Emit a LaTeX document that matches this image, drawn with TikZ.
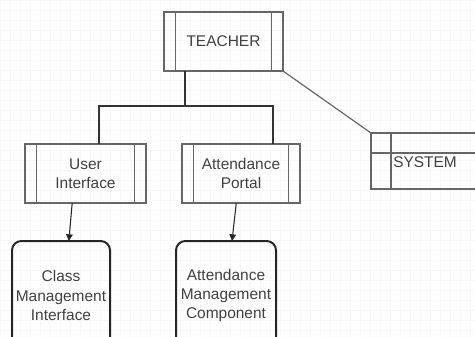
\documentclass[tikz,border=0pt]{standalone}
\usepackage{fontspec}
\setmainfont{Liberation Sans}
\usetikzlibrary{positioning, calc, arrows.meta}

\tikzset{
  procbox/.style={draw=black!60, line width=0.9pt, inner sep=0pt, outer sep=0pt,
    align=center, text=black!75},
  sidebars/.style={path picture={
      \draw[black!60, line width=0.9pt]
        ([xshift=8.5pt]path picture bounding box.north west) -- ([xshift=8.5pt]path picture bounding box.south west)
        ([xshift=-8.5pt]path picture bounding box.north east) -- ([xshift=-8.5pt]path picture bounding box.south east);
    }},
  storebox/.style={draw=black!60, line width=0.9pt, inner sep=0pt, outer sep=0pt,
    path picture={
      \draw[black!60, line width=0.9pt]
        ([xshift=15pt]path picture bounding box.north west) -- ([xshift=15pt]path picture bounding box.south west)
        ([yshift=-15pt]path picture bounding box.north west) -- ([yshift=-15pt]path picture bounding box.north east);
    }},
  compbox/.style={draw=black!85, line width=1.5pt, rounded corners=7pt, inner sep=0pt,
    outer sep=0pt, align=center, text=black!75},
  conn/.style={draw=black!80, line width=1.3pt},
  arr/.style={draw=black!85, line width=0.8pt, -{Triangle[length=5pt,width=5pt]}},
  gridline/.style={draw=black!3, line width=0.5pt}
}

\begin{document}
\begin{tikzpicture}[x=0.75pt, y=-0.75pt, font=\fontsize{11.6}{14.5}\selectfont]
  \useasboundingbox (0,0) rectangle (475,336);
  \clip (0,0) rectangle (475,336);

  % background grid
  \draw[gridline, step=7.5pt] (0,0) grid (480,340);

  % top level
  \node[procbox, sidebars, minimum width=89.25pt, minimum height=44.25pt] (teacher) at (223.5,41.5) {TEACHER};

  % second level
  \node[procbox, sidebars, minimum width=90.75pt, minimum height=44.25pt] (userif) at (85.5,173.5) {User\\Interface};
  \node[procbox, sidebars, minimum width=88.5pt, minimum height=44.25pt] (portal) at (241,173.5) {Attendance\\Portal};
  \node[storebox, minimum width=85.5pt, minimum height=42pt] (system) at (428,161) {};
  \node[anchor=west, inner sep=0pt, text=black!75] (systemtxt) at (393,162) {SYSTEM};

  % components
  \node[compbox, minimum width=73.5pt, minimum height=81.75pt] (classmgmt) at (61,295.5) {Class\\Management\\Interface};
  \node[compbox, minimum width=75pt, minimum height=81.75pt] (attmgmt) at (226,295.5) {Attendance\\Management\\Component};

  % tree connectors
  \coordinate (tdrop) at ($(teacher.south west)!0.176!(teacher.south east)$);
  \coordinate (uitop) at ($(userif.north west)!0.61!(userif.north east)$);
  \coordinate (pttop) at ($(portal.north west)!0.77!(portal.north east)$);
  \draw[conn] (tdrop) -- ++(0,35) -| (uitop);
  \draw[conn] (tdrop) -- ++(0,35) -| (pttop);

  % link to system
  \draw[black!60, line width=0.9pt] (teacher.south east) -- (system.north west);

  % arrows
  \draw[arr] ($(userif.south west)!0.39!(userif.south east)$) -- ($(classmgmt.north west)!0.58!(classmgmt.north east)$);
  \draw[arr] ($(portal.south west)!0.46!(portal.south east)$) -- ($(attmgmt.north west)!0.56!(attmgmt.north east)$);
\end{tikzpicture}
\end{document}
